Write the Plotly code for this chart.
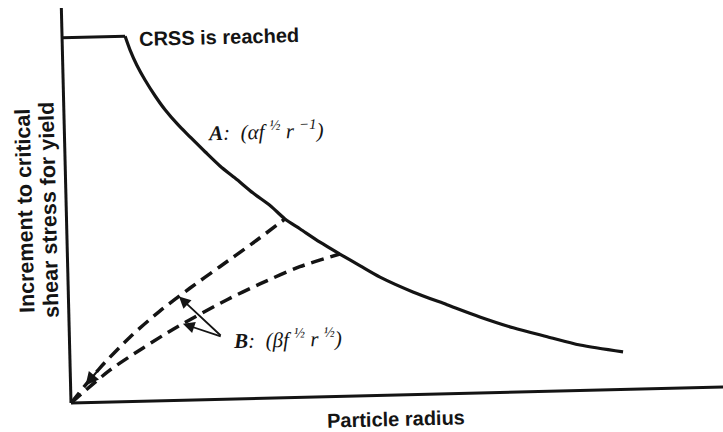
import numpy as np
import plotly.graph_objects as go

# Yield-stress increment versus particle radius (arbitrary units)
# A: Orowan bypass branch, falls with radius
radius_a = [0.97, 1.04, 1.14, 1.26, 1.41, 1.56, 1.75, 1.93, 2.16, 2.38, 2.64, 2.88, 3.14,
            3.36, 3.59, 3.89, 4.19, 4.50, 4.80, 5.30, 5.82, 6.32, 6.83, 7.35, 7.85, 8.51]
stress_a = [5.62, 5.41, 5.17, 4.94, 4.69, 4.47, 4.24, 4.05, 3.81, 3.59, 3.37, 3.16, 2.96,
            2.75, 2.59, 2.38, 2.19, 2.00, 1.82, 1.58, 1.37, 1.17, 0.99, 0.84, 0.70, 0.58]
crss_level = 5.62

# B: particle-cutting branches, rise with radius
radius_b_upper = [0.0, 0.46, 0.93, 1.40, 1.87, 2.34, 2.84, 3.36]
stress_b_upper = [0.0, 0.53, 0.99, 1.38, 1.72, 2.04, 2.38, 2.75]
radius_b_lower = [0.0, 0.61, 1.13, 1.66, 2.44, 2.95, 3.57, 4.19]
stress_b_lower = [0.0, 0.49, 0.82, 1.13, 1.53, 1.76, 2.01, 2.19]

axis_len_r = 10.05
axis_len_tau = 6.08

# the whole drawing sits turned a little anticlockwise
TILT_DEG = 1.4
TILT = np.radians(TILT_DEG)


def turn(x, y):
    x = np.asarray(x, dtype=float)
    y = np.asarray(y, dtype=float)
    return (x * np.cos(TILT) - y * np.sin(TILT),
            x * np.sin(TILT) + y * np.cos(TILT))


INK = "#141414"
W, H = 723, 432
PX_PER_UNIT = 65.0
ORIGIN_PX = (71.0, 403.0)

fig = go.Figure()


def add_line(xs, ys, width=3.0, dash=None, shape="linear", smoothing=None):
    tx, ty = turn(xs, ys)
    line = dict(color=INK, width=width, shape=shape)
    if dash:
        line["dash"] = dash
    if smoothing is not None:
        line["smoothing"] = smoothing
    fig.add_trace(go.Scatter(x=tx, y=ty, mode="lines", line=line,
                             hoverinfo="skip", showlegend=False))


# axes
add_line([0, axis_len_r], [0, 0], width=3.0)
add_line([0, 0], [0, axis_len_tau], width=3.0)

# CRSS plateau and curve A
add_line([0, radius_a[0]], [crss_level, crss_level], width=3.0)
add_line(radius_a, stress_a, width=3.2, shape="spline", smoothing=0.8)

# curves B (dashed)
add_line(radius_b_upper, stress_b_upper, width=3.5, dash="13px,7px", shape="spline", smoothing=0.8)
add_line(radius_b_lower, stress_b_lower, width=3.5, dash="13px,7px", shape="spline", smoothing=0.8)

annotations = []


def arrow(head, tail, width=1.8, size=1.3, style=2):
    hx, hy = turn(*head)
    tx, ty = turn(*tail)
    annotations.append(dict(x=float(hx), y=float(hy), ax=float(tx), ay=float(ty),
                            xref="x", yref="y", axref="x", ayref="y", text="",
                            showarrow=True, arrowhead=style, arrowsize=size,
                            arrowwidth=width, arrowcolor=INK, standoff=0))


# arrow into the origin along the upper B curve
arrow((radius_b_upper[1] * 0.5, stress_b_upper[1] * 0.5),
      (radius_b_upper[1], stress_b_upper[1]), width=2.2, size=1.2)

# pointers from the B label to both dashed curves
label_tail = (2.35, 0.96)
xu = 1.70
arrow((xu, float(np.interp(xu, radius_b_upper, stress_b_upper))), label_tail)
xl = 1.75
arrow((xl, float(np.interp(xl, radius_b_lower, stress_b_lower))), label_tail)


def px_text(text, px, py, size, family, angle=-TILT_DEG, color=INK):
    annotations.append(dict(x=px / W, y=1 - py / H, xref="paper", yref="paper",
                            text=text, showarrow=False, xanchor="center",
                            yanchor="middle", textangle=angle,
                            font=dict(family=family, size=size, color=color)))


SANS = "Liberation Sans, Arial, sans-serif"
SERIF = "Liberation Serif, Times New Roman, serif"

px_text("<b>CRSS is reached</b>", 219, 37, 20, SANS)
px_text("<b>Particle radius</b>", 396, 419, 20, SANS)
px_text("<b>Increment to critical</b>", 25, 211, 21.5, SANS, angle=-90 - TILT_DEG)
px_text("<b>shear stress for yield</b>", 49, 210, 21.5, SANS, angle=-90 - TILT_DEG)
px_text("<i><b>A</b>:  (αf <sup>½</sup> r <sup>−1</sup>)</i>", 265, 130, 21, SERIF)
px_text("<i><b>B</b>:  (βf <sup>½</sup> r <sup>½</sup>)</i>", 287, 338, 21, SERIF)

x0 = -ORIGIN_PX[0] / PX_PER_UNIT
x1 = (W - ORIGIN_PX[0]) / PX_PER_UNIT
y0 = -(H - ORIGIN_PX[1]) / PX_PER_UNIT
y1 = ORIGIN_PX[1] / PX_PER_UNIT

fig.update_layout(
    width=W, height=H,
    margin=dict(l=0, r=0, t=0, b=0),
    paper_bgcolor="white", plot_bgcolor="white",
    showlegend=False,
    xaxis=dict(visible=False, range=[x0, x1], fixedrange=True),
    yaxis=dict(visible=False, range=[y0, y1], fixedrange=True),
    annotations=annotations,
)

fig.write_html("out.html")
